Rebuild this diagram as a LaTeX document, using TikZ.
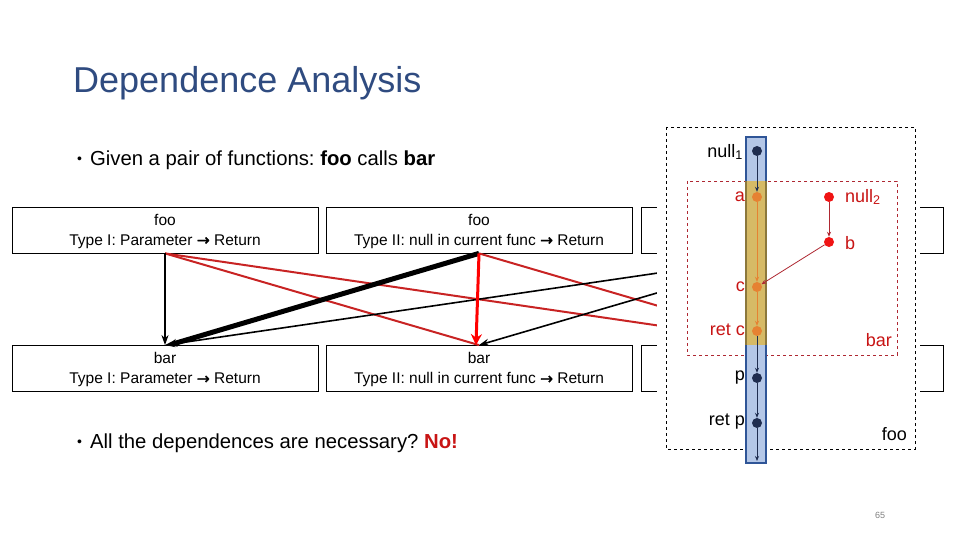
\documentclass[tikz,border=0pt]{standalone}
\usepackage{fontspec}
\setmainfont{Liberation Sans}
\newfontfamily\djvb{DejaVu Sans}[FakeBold=1.5]
\usetikzlibrary{arrows.meta}
\frenchspacing
\definecolor{titleblue}{RGB}{47,75,128}
\definecolor{thinred}{RGB}{200,35,35}
\definecolor{brightred}{RGB}{255,0,0}
\definecolor{colblue}{RGB}{180,199,231}
\definecolor{colblueedge}{RGB}{47,85,151}
\definecolor{colgold}{RGB}{214,186,102}
\definecolor{colgoldedge}{RGB}{140,120,60}
\definecolor{navydot}{RGB}{31,45,80}
\definecolor{orangedot}{RGB}{230,130,50}
\definecolor{reddot}{RGB}{240,20,20}
\definecolor{labelred}{RGB}{200,20,20}
\definecolor{darkdash}{RGB}{175,40,50}
\newcommand{\myarrow}{{\djvb →}}
\tikzset{
  fbox/.style={draw=black, line width=0.8pt, minimum width=306pt, minimum height=46pt, inner sep=0pt, align=center, font=\fontsize{15.5}{20}\selectfont},
  blackedge/.style={draw=black, line width=1.6pt, -{Stealth[length=10pt,width=7pt]}},
  thickblack/.style={draw=black, line width=5pt, -{Stealth[length=8pt,width=8pt]}},
  rededge/.style={draw=thinred, line width=2pt},
  thickred/.style={draw=brightred, line width=3pt, -{Stealth[length=11pt,width=11pt]}},
  dot/.style={circle, minimum size=10pt, inner sep=0pt},
  navy/.style={dot, fill=navydot},
  orng/.style={dot, fill=orangedot},
  rdot/.style={dot, fill=reddot},
  lab/.style={font=\fontsize{18}{20}\selectfont, inner sep=0pt},
  bullettext/.style={anchor=base west, font=\fontsize{20.3}{22}\selectfont\frenchspacing, inner sep=0pt},
  navyarrow/.style={draw=navydot, line width=0.8pt, -{Stealth[length=5pt,width=4pt]}},
  orngarrow/.style={draw=orangedot, line width=0.8pt, -{Stealth[length=5pt,width=4pt]}},
  redarrow/.style={draw=darkdash, line width=0.8pt, -{Stealth[length=5pt,width=4pt]}},
}
\begin{document}
\begin{tikzpicture}[x=1pt, y=-1pt]
\useasboundingbox (0,0) rectangle (960,540);
% title and bullets
\node[anchor=base west, text=titleblue, font=\fontsize{36}{40}\selectfont, inner sep=0pt] (title) at (73,93) {Dependence Analysis};
\node[bullettext] (b1) at (77,165) {{\fontsize{14}{14}\selectfont\raisebox{1.5pt}{\textbullet}}\hspace{8pt}Given a pair of functions: \textbf{foo} calls \textbf{bar}};
\node[bullettext] (b2) at (77,448) {{\fontsize{14}{14}\selectfont\raisebox{1.5pt}{\textbullet}}\hspace{8pt}All the dependences are necessary? \textcolor{labelred}{\textbf{No!}}};
% boxes
\node[fbox] (f1) at (165,230) {\rule{0pt}{14pt}foo\\Type I: Parameter \myarrow{} Return};
\node[fbox] (f2) at (479,230) {\rule{0pt}{14pt}foo\\Type II: null in current func \myarrow{} Return};
\node[fbox, minimum width=302pt] (f3) at (792,230) {};
\node[fbox] (g1) at (165,368.5) {\rule{0pt}{14pt}bar\\Type I: Parameter \myarrow{} Return};
\node[fbox] (g2) at (479,368.5) {\rule{0pt}{14pt}bar\\Type II: null in current func \myarrow{} Return};
\node[fbox, minimum width=302pt] (g3) at (792,368.5) {};
% edges
\draw[rededge] (f1.south) -- (g2.north);
\draw[rededge] (f1.south) -- (g3.north);
\draw[rededge] (f2.south) -- (g3.north);
\draw[blackedge] (f1.south) -- (g1.north);
\draw[blackedge] (f3.south) -- (g1.north);
\draw[blackedge] (f3.south) -- (g2.north);
\draw[thickblack] (f2.south) -- ([xshift=4pt]g1.north);
\draw[thickred] (f2.south) -- ([xshift=-3pt]g2.north);
% overlay
\fill[white] (657,120) rectangle (920,456);
\draw[dashed, line width=0.9pt] (666,127) rectangle (915,449);
\draw[dashed, draw=darkdash, line width=0.8pt] (687,181) rectangle (897,355);
% column
\draw[fill=colblue, draw=colblueedge, line width=1.5pt] (746,137) rectangle (766,463);
\fill[colgold] (746,181) rectangle (766,345);
\draw[colgoldedge, line width=1.5pt] (746,181) -- (746,345) (766,181) -- (766,345);
% dots
\node[navy] (n1) at (757,151) {};
\node[orng] (a) at (757,197) {};
\node[rdot] (n2) at (829,197) {};
\node[rdot] (b) at (829,242) {};
\node[orng] (c) at (757,287) {};
\node[orng] (rc) at (757,331) {};
\node[navy] (p) at (757,378) {};
\node[navy] (rp) at (757,423) {};
\coordinate (end) at (757,461);
\draw[navyarrow] (n1) -- (a);
\draw[orngarrow] (a) -- (c);
\draw[orngarrow] (c) -- (rc);
\draw[navyarrow] (rc) -- (p);
\draw[navyarrow] (p) -- (rp);
\draw[navyarrow] (rp) -- (end);
\draw[redarrow] (n2) -- (b);
\draw[redarrow] (b) -- (c);
% labels
\node[lab, anchor=east] (ln1) at (743,152) {null\textsubscript{1}};
\node[lab, anchor=east, text=labelred] (la) at (745,197) {a};
\node[lab, anchor=west, text=labelred] (ln2) at (845,197) {null\textsubscript{2}};
\node[lab, anchor=west, text=labelred] (lb) at (845,243) {b};
\node[lab, anchor=east, text=labelred] (lc) at (745,287) {c};
\node[lab, anchor=east, text=labelred] (lrc) at (745,330) {ret c};
\node[lab, anchor=east, text=labelred] (lbar) at (892,340) {bar};
\node[lab, anchor=east] (lp) at (745,378) {p};
\node[lab, anchor=east] (lrp) at (745,422) {ret p};
\node[lab, anchor=east] (lfoo) at (907,434) {foo};
\node[font=\fontsize{9}{10}\selectfont, text=gray, inner sep=0pt] (pg) at (880,515) {65};
\end{tikzpicture}
\end{document}
